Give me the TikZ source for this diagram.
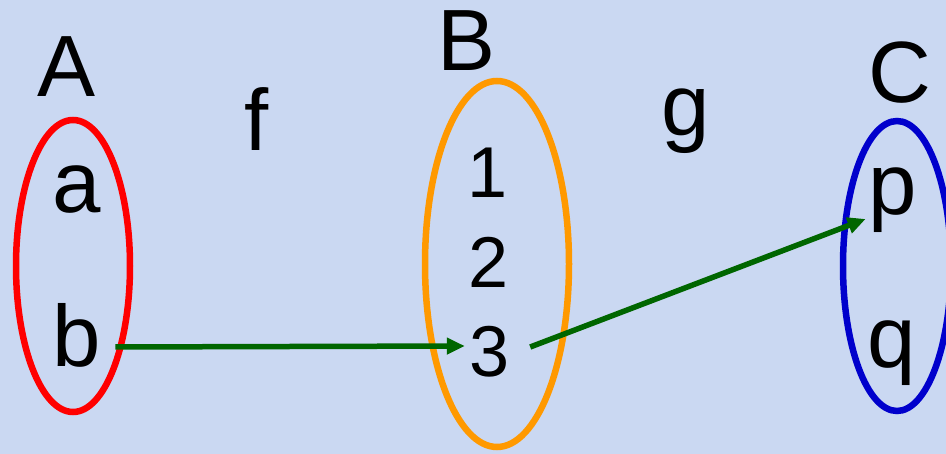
\documentclass[tikz,border=0pt]{standalone}
\usepackage{fontspec}
\setmainfont{Liberation Sans}
\usetikzlibrary{arrows.meta,shapes.geometric}
\definecolor{bgc}{HTML}{CAD8F2}
\definecolor{setred}{HTML}{FF0000}
\definecolor{setorange}{HTML}{FF9900}
\definecolor{setblue}{HTML}{0000CC}
\definecolor{arrgreen}{HTML}{006600}
\tikzset{
  lbl/.style={anchor=base, inner sep=0pt, font=\fontsize{87pt}{87pt}\selectfont, text=black},
  digit/.style={lbl, font=\fontsize{72pt}{72pt}\selectfont},
  setring/.style={ellipse, draw, line width=6.5pt, inner sep=0pt},
  maparrow/.style={draw=arrgreen, line width=5.5pt, -{Triangle[length=18pt,width=16pt]}, fill=arrgreen}
}
\begin{document}
\begin{tikzpicture}[x=1pt,y=-1pt]
\fill[bgc] (0,0) rectangle (946,454);
\useasboundingbox (0,0) rectangle (946,454);
% sets
\node[setring, draw=setred, minimum width=114pt, minimum height=292pt] (setA) at (73,266) {};
\node[setring, draw=setorange, minimum width=144pt, minimum height=366pt] (setB) at (497,264) {};
\node[setring, draw=setblue, minimum width=108pt, minimum height=290pt] (setC) at (897,266) {};
% labels
\node[lbl] (A) at (67,97) {A};
\node[lbl] (B) at (467,71) {B};
\node[lbl] (C) at (900,103) {C};
\node[lbl] (f) at (257,151) {f};
\node[lbl] (g) at (686,136) {g};
\node[lbl] (a) at (77,213) {a};
\node[lbl] (b) at (77,367) {b};
\node[digit] (one) at (488,198) {1};
\node[digit] (two) at (489,288) {2};
\node[digit] (three) at (490,377) {3};
\node[lbl] (p) at (893,215) {p};
\node[lbl] (q) at (892,368) {q};
% arrows
\draw[maparrow] ([shift={(14,-20)}]b.base east) -- ([shift={(-5,-31)}]three.base west);
\draw[maparrow] ([shift={(20,-30)}]three.base east) -- ([shift={(-3,4)}]p.base west);
\end{tikzpicture}
\end{document}
